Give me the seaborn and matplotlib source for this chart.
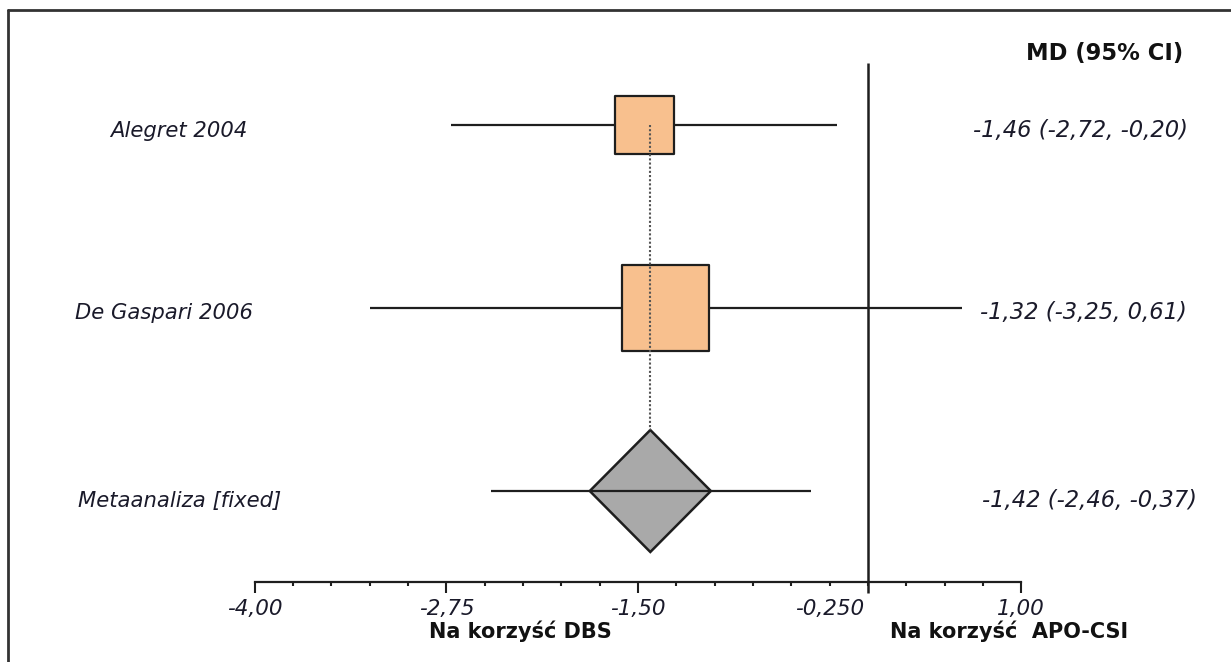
import matplotlib
matplotlib.use("Agg")
import matplotlib.pyplot as plt
from matplotlib.ticker import FixedLocator, FixedFormatter
from matplotlib.lines import Line2D
import seaborn as sns
import numpy as np
import pandas as pd

# ---------------- data ----------------
studies = ["Alegret 2004", "De Gaspari 2006", "Metaanaliza [fixed]"]
md = [-1.46, -1.32, -1.42]
ci_low = [-2.72, -3.25, -2.46]
ci_high = [-0.20, 0.61, -0.37]
box_weight = [31.5, 68.5]          # relative weights (box area) of the two studies
tick_values = [-4.00, -2.75, -1.50, -0.25, 1.00]
tick_labels = ["-4,00", "-2,75", "-1,50", "-0,250", "1,00"]
header = "MD (95% CI)"
left_label = "Na korzyść DBS"
right_label = "Na korzyść  APO-CSI"

# ---------------- style ----------------
sns.set_theme(style="white")
plt.rcParams["font.family"] = ["DejaVu Sans"]

W, H = 1231, 662
fig = plt.figure(figsize=(W / 100, H / 100), dpi=100)
fig.patch.set_facecolor("white")

# axes covering whole figure; x scale: 0 at px 868, 153.3 px per unit; y in px from top
x0_px, ppu = 868.0, 153.3
ax = fig.add_axes([0, 0, 1, 1])
ax.set_xlim((0 - x0_px) / ppu, (W - x0_px) / ppu)
ax.set_ylim(H, 0)
ax.set_facecolor("white")

row_y = [125, 308, 491]
dark = "#1e1e1e"
orange = "#F8C08E"
gray = "#A9A9A9"

df = pd.DataFrame({"study": studies, "md": md, "lo": ci_low, "hi": ci_high, "y": row_y})

# CI lines
ax.hlines(df["y"][:2], df["lo"][:2], df["hi"][:2], color=dark, lw=1.6, zorder=2)

# study boxes (area proportional to weight)
box_df = df.iloc[:2].copy()
box_df["w"] = box_weight
s_max = 62.5 ** 2
sns.scatterplot(data=box_df, x="md", y="y", size="w", sizes=(0, s_max),
                size_norm=(0, max(box_weight)), marker="s", color=orange,
                edgecolor=dark, linewidth=1.6, legend=False, ax=ax, zorder=3)
ax.set_xlabel("")
ax.set_ylabel("")

# pooled diamond
pm, py = md[2], row_y[2]
hw, hh = 0.395, 61
ax.fill([pm - hw, pm, pm + hw, pm], [py, py - hh, py, py + hh],
        facecolor=gray, edgecolor=dark, lw=1.8, zorder=3)
ax.hlines(py, ci_low[2], ci_high[2], color=dark, lw=1.6, zorder=4)

# dotted line at pooled estimate
ax.vlines(pm, row_y[0], py - hh, color="#555555", lw=1.5, linestyles=(0, (1, 1)), zorder=4)

# line of no effect
ax.vlines(0, 63, 593, color=dark, lw=1.8, zorder=2)

# bottom axis
for s in ["left", "right", "top"]:
    ax.spines[s].set_visible(False)
ax.spines["bottom"].set_position(("data", 582))
ax.spines["bottom"].set_bounds(tick_values[0], tick_values[-1])
ax.spines["bottom"].set_color(dark)
ax.spines["bottom"].set_linewidth(1.6)
ax.yaxis.set_visible(False)
ax.xaxis.set_major_locator(FixedLocator(tick_values))
ax.xaxis.set_major_formatter(FixedFormatter(tick_labels))
ax.xaxis.set_minor_locator(FixedLocator(np.arange(tick_values[0], tick_values[-1] + 0.01, 0.25)))
ax.tick_params(axis="x", which="major", direction="out", length=8, width=1.5,
               color=dark, pad=4, labelsize=15.5, bottom=True)
ax.tick_params(axis="x", which="minor", direction="out", length=3, width=1.5,
               color=dark, bottom=True)
for lab in ax.get_xticklabels():
    lab.set_fontstyle("italic")
    lab.set_color("#1a1a2a")
# the -0.25 tick is drawn short in the reference
ax.xaxis.get_major_ticks()[3].tick1line.set_markersize(3)

# ---------------- texts (figure pixel positions) ----------------
def ftext(xp, yp, s, **kw):
    fig.text(xp / W, 1 - yp / H, s, **kw)

txt_col = "#1a1a2a"
study_x = [110, 75, 78]
study_base = [137, 319, 507]
for x, yb, s in zip(study_x, study_base, studies):
    ftext(x, yb, s, fontsize=15.2, style="italic", color=txt_col, va="baseline", ha="left")

ci_x = [973, 980, 982]
for x, yb, m, lo, hi in zip(ci_x, study_base, md, ci_low, ci_high):
    s = f"{m:.2f} ({lo:.2f}, {hi:.2f})".replace(".", ",")
    ftext(x, yb, s, fontsize=16.3, style="italic", color=txt_col, va="baseline", ha="left")

ftext(1183, 60, header, fontsize=16.3, fontweight="bold", color="#111111",
      va="baseline", ha="right")
ftext(520, 638, left_label, fontsize=15, fontweight="bold", color="#111111",
      va="baseline", ha="center")
ftext(1009, 638, right_label, fontsize=15, fontweight="bold", color="#111111",
      va="baseline", ha="center")

# outer frame (only left and top edges visible)
fig.add_artist(Line2D([8 / W, 8 / W], [0, 1 - 10 / H], transform=fig.transFigure,
                      color="#333333", lw=2))
fig.add_artist(Line2D([8 / W, 1], [1 - 10 / H, 1 - 10 / H], transform=fig.transFigure,
                      color="#333333", lw=2))

fig.savefig("out.png", dpi=100, facecolor="white")
